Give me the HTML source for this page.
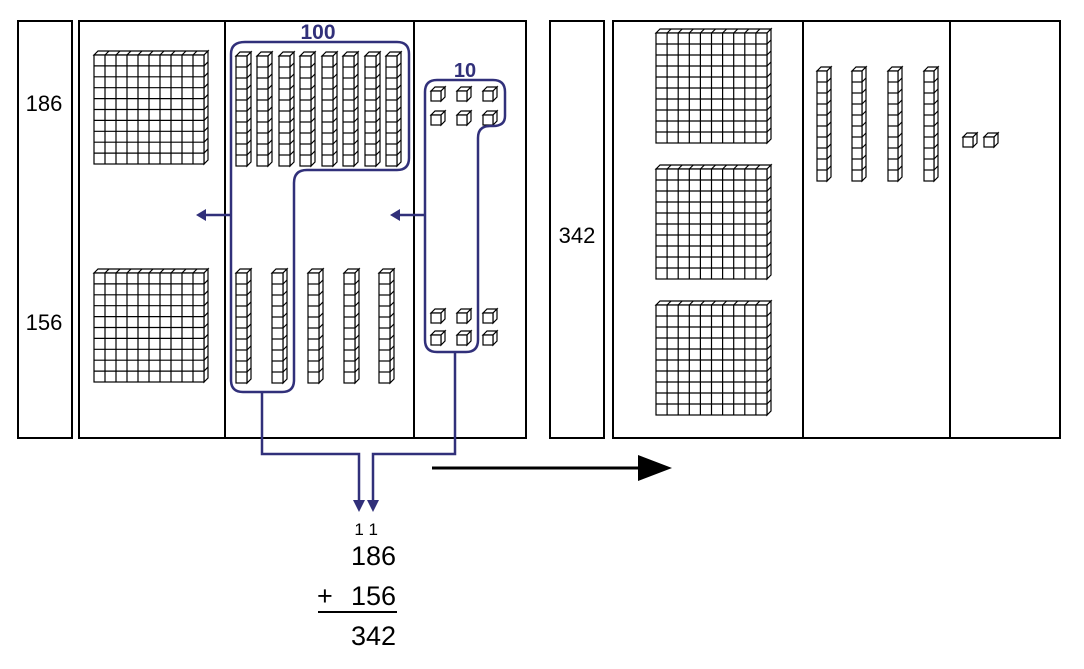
<!DOCTYPE html>
<html><head><meta charset="utf-8"><style>
html,body{margin:0;padding:0;background:#fff;width:1084px;height:669px;overflow:hidden}
svg{display:block}
text{font-family:"Liberation Sans",sans-serif}
</style></head><body>
<svg id="s" width="1084" height="669" viewBox="0 0 1084 669" xmlns="http://www.w3.org/2000/svg">
<g fill="none" stroke="#000" stroke-width="2">
<rect x="18" y="21" width="54" height="417"/>
<rect x="79" y="21" width="447" height="417"/>
<line x1="225" y1="21" x2="225" y2="438"/>
<line x1="414" y1="21" x2="414" y2="438"/>
<rect x="550" y="21" width="54" height="417"/>
<rect x="613" y="21" width="447" height="417"/>
<line x1="803" y1="21" x2="803" y2="438"/>
<line x1="950" y1="21" x2="950" y2="438"/>
</g>
<g id="blocks" fill="#fff" stroke="#000" stroke-width="1.2"></g>
<g fill="none" stroke="#31307a" stroke-width="2.5">
<path d="M245,42 H397 Q409,42 409,54 V158 Q409,170 397,170 H307 Q294,170 294,183 V380 Q294,392 282,392 H243 Q231,392 231,380 V54 Q231,42 245,42 Z"/>
<path d="M437,80 H493 Q505,80 505,92 V116 Q505,126 493,126 H490 Q478,126 478,138 V340 Q478,352 466,352 H437 Q425,352 425,340 V92 Q425,80 437,80 Z"/>
<line x1="231" y1="215" x2="204" y2="215"/>
<line x1="425" y1="215" x2="398" y2="215"/>
<polyline points="262,392 262,454 359,454 359,502"/>
<polyline points="455,352 455,454 373,454 373,502"/>
</g>
<g fill="#31307a">
<polygon points="196,215 206,209 206,221"/>
<polygon points="390,215 400,209 400,221"/>
<polygon points="359,512 353,500 365,500"/>
<polygon points="373,512 367,500 379,500"/>
</g>
<line x1="432" y1="468" x2="645" y2="468" stroke="#000" stroke-width="3"/>
<polygon points="672,468 638,455 638,481" fill="#000"/>
<g fill="#31307a" font-weight="bold" text-anchor="middle">
<text x="318" y="39" font-size="21">100</text>
<text x="465" y="77" font-size="20">10</text>
</g>
<g fill="#000" font-size="22" text-anchor="middle">
<text x="44" y="111">186</text>
<text x="44" y="330">156</text>
<text x="577" y="243">342</text>
</g>
<g fill="#000" text-anchor="end" font-size="27">
<text x="378" y="535" font-size="17">1 1</text>
<text x="396" y="565">186</text>
<text x="396" y="605">156</text>
<text x="396" y="645">342</text>
</g>
<text x="317" y="605" font-size="27">+</text>
<line x1="318" y1="612" x2="397" y2="612" stroke="#000" stroke-width="2"/>
</svg>
<script>
var g=document.getElementById('blocks'),h='';
function flat(x,y,w,hh){var c=w/10,r=hh/10,d=4;
 h+='<polygon points="'+x+','+y+' '+(x+d)+','+(y-d)+' '+(x+w+d)+','+(y-d)+' '+(x+w)+','+y+'"/>';
 h+='<polygon points="'+(x+w)+','+y+' '+(x+w+d)+','+(y-d)+' '+(x+w+d)+','+(y+hh-d)+' '+(x+w)+','+(y+hh)+'"/>';
 h+='<rect x="'+x+'" y="'+y+'" width="'+w+'" height="'+hh+'"/>';
 for(var i=1;i<10;i++){h+='<line x1="'+(x+i*c)+'" y1="'+y+'" x2="'+(x+i*c)+'" y2="'+(y+hh)+'"/>';
  h+='<line x1="'+(x+i*c+d)+'" y1="'+(y-d)+'" x2="'+(x+i*c)+'" y2="'+y+'"/>';
  h+='<line x1="'+x+'" y1="'+(y+i*r)+'" x2="'+(x+w)+'" y2="'+(y+i*r)+'"/>';
  h+='<line x1="'+(x+w)+'" y1="'+(y+i*r)+'" x2="'+(x+w+d)+'" y2="'+(y+i*r-d)+'"/>';}
}
function rod(x,y,hh){flat2(x,y,11,hh,1,10);}
function flat2(x,y,w,hh,nc,nr){var d=4,r=hh/nr;
 h+='<polygon points="'+x+','+y+' '+(x+d)+','+(y-d)+' '+(x+w+d)+','+(y-d)+' '+(x+w)+','+y+'"/>';
 h+='<polygon points="'+(x+w)+','+y+' '+(x+w+d)+','+(y-d)+' '+(x+w+d)+','+(y+hh-d)+' '+(x+w)+','+(y+hh)+'"/>';
 h+='<rect x="'+x+'" y="'+y+'" width="'+w+'" height="'+hh+'"/>';
 for(var i=1;i<nr;i++){h+='<line x1="'+x+'" y1="'+(y+i*r)+'" x2="'+(x+w)+'" y2="'+(y+i*r)+'"/>';
  h+='<line x1="'+(x+w)+'" y1="'+(y+i*r)+'" x2="'+(x+w+d)+'" y2="'+(y+i*r-d)+'"/>';}
}
function cube(x,y){flat2(x,y,10,10,1,1);}
flat(94,55,110,109);flat(94,273,110,109);
flat(656,33,111,110);flat(656,169,111,110);flat(656,305,111,110);
[236,257,279,300,322,343,365,386].forEach(function(x){rod(x,56,110)});
[236,272,308,344,379].forEach(function(x){rod(x,273,110)});
[817,852,888,924].forEach(function(x){flat2(x,71,10,110,1,10)});
[[431,91],[457,91],[483,91],[431,115],[457,115],[483,115],[431,313],[457,313],[483,313],[431,335],[457,335],[483,335],[963,137],[984,137]].forEach(function(p){cube(p[0],p[1])});
g.innerHTML=h;
</script>
</body></html>
